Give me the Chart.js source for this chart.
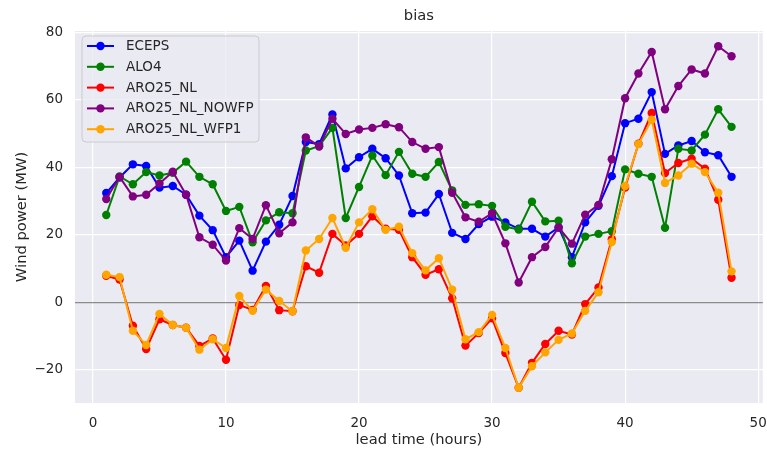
<!DOCTYPE html>
<html><head><meta charset="utf-8">
<script src="https://cdn.jsdelivr.net/npm/chart.js@4/dist/chart.umd.min.js"></script>
<style>html,body{margin:0;padding:0;background:#fff}#wrap{width:767px;height:449px;position:relative}</style>
</head><body><div id="wrap"><canvas id="c" width="767" height="449"></canvas></div>
<script>
const leadTimes = [1,2,3,4,5,6,7,8,9,10,11,12,13,14,15,16,17,18,19,20,21,22,23,24,25,26,27,28,29,30,31,32,33,34,35,36,37,38,39,40,41,42,43,44,45,46,47,48];
const seriesNames = ['ECEPS','ALO4','ARO25_NL','ARO25_NL_NOWFP','ARO25_NL_WFP1'];
const seriesColors = ['#0000ff','#008000','#ff0000','#800080','#ffa500'];
const eceps = [32.4,37,40.9,40.4,34,34.5,31.9,25.7,21.4,13.4,18.3,9.4,18,23,31.5,47.5,46.9,55.7,39.7,43,45.5,42.7,37.6,26.4,26.6,32.1,20.6,18.8,23.2,25.4,23.7,21.8,21.8,19.5,22.2,13.4,23.7,28.6,37.4,53.1,54.4,62.3,44,46.5,47.8,44.5,43.6,37.2];
const alo4 = [25.9,37.3,35,38.6,37.6,38.4,41.7,37.2,35,27.1,28.3,17.8,24.3,26.7,26.4,45,46.3,51.7,25,34.2,43.5,37.7,44.6,38.1,37.2,41.6,33.2,28.9,29.1,28.6,22.4,21.6,29.8,24,24.2,11.6,19.5,20.3,21.1,39.4,38.1,37.2,22.1,45.5,45,49.7,57.2,52];
const aro25 = [7.9,6.8,-6.9,-13.8,-5,-6.7,-7.5,-12.9,-10.7,-17,-0.8,-2.2,4.9,-2.3,-2.6,10.7,8.8,20.3,16.9,20.3,25.5,21.8,21.5,13.4,8.2,9.8,1.2,-12.8,-9.1,-4.7,-15,-25.3,-17.9,-12.3,-8.4,-9.5,-0.5,4.4,18.7,34,47,56.1,38.3,41.3,42.6,39.6,30.4,7.3];
const aro25Nowfp = [30.6,37.2,31.4,31.9,35.2,38.7,31.9,19.3,17.1,12.4,22,18.8,28.8,20.5,23.7,48.9,46.2,54.4,49.9,51.2,51.7,52.8,51.9,47.5,45.5,46,32.5,25.2,23.9,26.4,17.5,5.9,13.4,16.4,22.2,17.4,26,28.9,42.4,60.5,67.8,74.2,57.2,64.1,69,67.8,75.9,72.9];
const aro25Wfp1 = [8.2,7.5,-8.4,-12.6,-3.4,-6.7,-7.5,-14,-10.9,-13.5,1.9,-2.5,3.8,0.4,-2.6,15.4,18.8,25,16.2,23.7,27.6,21.5,22.4,14.6,9.5,13.1,3.8,-10.9,-8.8,-3.7,-13.5,-25.3,-18.9,-14.8,-11.1,-9.2,-2.5,3.0,17.9,34.5,46.9,54.1,35.4,37.6,41.1,38.6,32.5,9.2];
const xTicks = [0,10,20,30,40,50];
const yTicks = [-20,0,20,40,60,80];
const chartTitle = 'bias';
const xTitle = 'lead time (hours)';
const yTitle = 'Wind power (MW)';

const allSeries = [eceps, alo4, aro25, aro25Nowfp, aro25Wfp1];
const FONT = "'DejaVu Sans', sans-serif";
const TXT = '#262626';
const LW = 2;
const PR = 4.2;

const datasets = allSeries.map((vals, i) => ({
  label: seriesNames[i],
  data: leadTimes.map((h, j) => ({x: h, y: vals[j]})),
  borderColor: seriesColors[i],
  backgroundColor: seriesColors[i],
  borderWidth: LW,
  pointRadius: PR,
  pointHoverRadius: PR,
  pointBorderWidth: 0,
  tension: 0,
  order: allSeries.length - i
}));

const bgPlugin = {
  id: 'bg',
  beforeDraw(chart) {
    const {ctx, chartArea: a} = chart;
    ctx.save();
    ctx.fillStyle = '#ffffff';
    ctx.fillRect(0, 0, chart.width, chart.height);
    ctx.fillStyle = '#eaeaf2';
    ctx.fillRect(a.left, a.top, a.right - a.left, a.bottom - a.top);
    ctx.restore();
  }
};

const titlePlugin = {
  id: 'ttl',
  afterDraw(chart) {
    const {ctx, chartArea: a} = chart;
    ctx.save();
    ctx.fillStyle = TXT;
    ctx.font = '14.7px ' + FONT;
    ctx.textAlign = 'center';
    ctx.textBaseline = 'middle';
    ctx.fillText(chartTitle, (a.left + a.right) / 2, 16.5);
    ctx.restore();
  }
};

const legendPlugin = {
  id: 'lgd',
  afterDatasetsDraw(chart) {
    const {ctx} = chart;
    const x = 82, y = 36, w = 177, h = 106, r = 4;
    ctx.save();
    ctx.beginPath();
    ctx.moveTo(x + r, y);
    ctx.arcTo(x + w, y, x + w, y + h, r);
    ctx.arcTo(x + w, y + h, x, y + h, r);
    ctx.arcTo(x, y + h, x, y, r);
    ctx.arcTo(x, y, x + w, y, r);
    ctx.closePath();
    ctx.fillStyle = 'rgba(234,234,242,0.8)';
    ctx.fill();
    ctx.strokeStyle = '#cccccc';
    ctx.lineWidth = 1;
    ctx.stroke();
    ctx.font = '13.5px ' + FONT;
    ctx.textBaseline = 'middle';
    ctx.textAlign = 'left';
    seriesNames.forEach((name, i) => {
      const yy = 46 + i * 20.8;
      ctx.strokeStyle = seriesColors[i];
      ctx.lineWidth = LW;
      ctx.beginPath();
      ctx.moveTo(87, yy);
      ctx.lineTo(114, yy);
      ctx.stroke();
      ctx.fillStyle = seriesColors[i];
      ctx.beginPath();
      ctx.arc(100.5, yy, PR, 0, Math.PI * 2);
      ctx.fill();
      ctx.fillStyle = TXT;
      ctx.fillText(name, 126, yy + 0.5);
    });
    ctx.restore();
  }
};

new Chart(document.getElementById('c'), {
  type: 'line',
  data: {datasets},
  plugins: [bgPlugin, legendPlugin, titlePlugin],
  options: {
    responsive: false,
    devicePixelRatio: 1,
    animation: false,
    events: [],
    layout: {padding: {top: 31, right: 3, left: 0, bottom: 0}},
    plugins: {legend: {display: false}, title: {display: false}, tooltip: {enabled: false}},
    scales: {
      x: {
        type: 'linear',
        min: -1.35, max: 50.35,
        afterBuildTicks(s) { s.ticks = xTicks.map(v => ({value: v})); },
        afterFit(s) { s.height = 46; s.paddingLeft = 0; s.paddingRight = 0; },
        grid: {color: '#ffffff', lineWidth: 1.2, drawTicks: false},
        border: {display: false},
        ticks: {padding: 12, color: TXT, font: {family: FONT, size: 13.5}, maxRotation: 0, callback: v => String(v)},
        title: {display: true, text: xTitle, color: TXT, font: {family: FONT, size: 14.7}, padding: {top: 0, bottom: 0}}
      },
      y: {
        type: 'linear',
        min: -29.8, max: 80.4,
        afterBuildTicks(s) { s.ticks = yTicks.map(v => ({value: v})); },
        afterFit(s) { s.width = 75; s.paddingTop = 0; s.paddingBottom = 0; },
        grid: {color: c => (c.tick && c.tick.value === 0) ? '#8c8c8c' : '#ffffff', lineWidth: 1.2, drawTicks: false},
        border: {display: false},
        ticks: {padding: 12, color: TXT, font: {family: FONT, size: 13.5}, callback: v => v < 0 ? '\u2212' + Math.abs(v) : String(v)},
        title: {display: true, text: yTitle, color: TXT, font: {family: FONT, size: 14.7}, padding: {top: 13, bottom: 0}}
      }
    }
  }
});
</script></body></html>
